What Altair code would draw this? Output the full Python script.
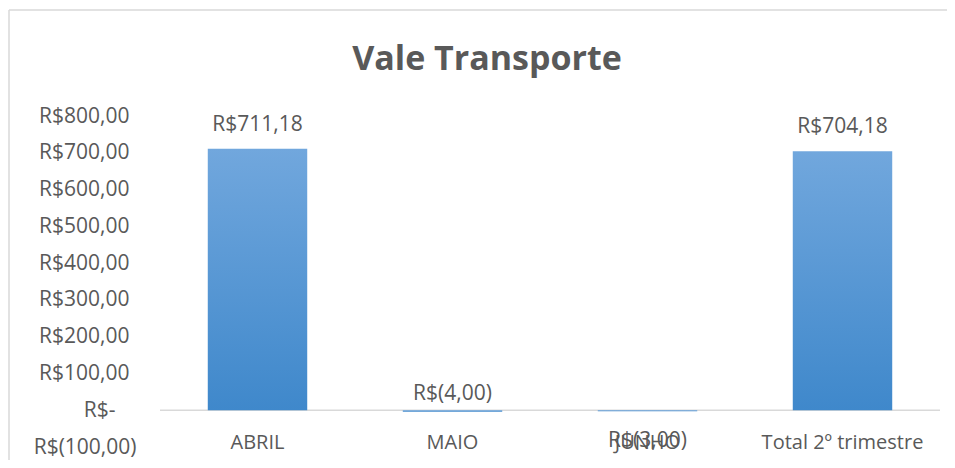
import altair as alt
import pandas as pd

categories = ["ABRIL", "MAIO", "JUNHO", "Total 2º trimestre"]
values = [711.18, -4.00, -3.00, 704.18]
y_ticks = [-100, 0, 100, 200, 300, 400, 500, 600, 700, 800]
title_text = "Vale Transporte"


def brl(v):
    s = f"{abs(v):.2f}".replace(".", ",")
    return f"R$({s})" if v < 0 else f"R${s}"


df = pd.DataFrame({
    "cat": categories,
    "value": values,
    "label": [brl(v) for v in values],
})
df["pos"] = df["value"].clip(lower=0)

W, H = 780, 331
PAD_L, PAD_T, PAD_R, PAD_B = 152, 108, 7, 13
unit = H / 9.0  # pixels per 100
TXT = "#595959"
FONT = "Open Sans"
ZW = "\u200b"
POS_PAD = "\u2006\u2006" + ZW
ZERO_PAD = "\u2002\u2002" + ZW

x_axis = alt.Axis(
    orient="bottom",
    offset=-unit,
    domain=False,
    ticks=False,
    tickSize=0,
    labelPadding=32,
    labelBaseline="middle",
    labelAngle=0,
    labelFontSize=20,
    labelColor=TXT,
    labelFont=FONT,
    labelOverlap=False,
)
x_scale = alt.Scale(paddingInner=0.49, paddingOuter=0.245)

y_scale = alt.Scale(domain=[-100, 800], nice=False, zero=False)
label_expr = (
    "datum.value == 0 ? 'R$-" + ZERO_PAD + "' : "
    "(datum.value < 0 ? 'R$(' + replace(format(-datum.value, '.2f'), '.', ',') + ')' : "
    "'R$' + replace(format(datum.value, '.2f'), '.', ',') + '" + POS_PAD + "')"
)
y_axis = alt.Axis(
    values=y_ticks,
    grid=False,
    domain=False,
    ticks=False,
    tickSize=0,
    labelPadding=24,
    labelExpr=label_expr,
    labelFontSize=21,
    labelColor=TXT,
    labelFont=FONT,
    labelOverlap=False,
    labelFlush=False,
)


def X():
    return alt.X("cat:N", sort=categories, title=None, scale=x_scale, axis=x_axis)


def Y(field):
    return alt.Y(field, scale=y_scale, title=None, axis=y_axis)


base = alt.Chart(df)

bars = base.mark_bar(
    color=alt.Gradient(
        gradient="linear",
        stops=[
            alt.GradientStop(color="#71a7dd", offset=0),
            alt.GradientStop(color="#3f88cb", offset=1),
        ],
        x1=0, x2=0, y1=0, y2=1,
    )
).encode(x=X(), y=Y("value:Q"), y2=alt.datum(0))

zero = base.mark_rule(color="#d9d9d9", strokeWidth=1.6).encode(
    y=alt.YDatum(0, scale=y_scale, title=None, axis=y_axis)
).transform_filter("datum.cat == 'ABRIL'")

lab_pos = base.transform_filter("datum.value >= 0").mark_text(
    fontSize=21, font=FONT, color=TXT, baseline="middle", dy=-24
).encode(x=X(), y=Y("pos:Q"), text="label:N")

lab_maio = base.transform_filter("datum.cat == 'MAIO'").mark_text(
    fontSize=21, font=FONT, color=TXT, baseline="middle", dy=-16
).encode(x=X(), y=Y("pos:Q"), text="label:N")

lab_junho = base.transform_filter("datum.cat == 'JUNHO'").mark_text(
    fontSize=21, font=FONT, color=TXT, baseline="middle", dy=31
).encode(x=X(), y=Y("pos:Q"), text="label:N")

border_left = alt.Chart(pd.DataFrame({"a": [0]})).mark_rule(
    color="#d9d9d9", strokeWidth=1.5
).encode(x=alt.value(-PAD_L + 1), y=alt.value(-PAD_T + 2), y2=alt.value(H + PAD_B))

border_top = alt.Chart(pd.DataFrame({"a": [0]})).mark_rule(
    color="#d9d9d9", strokeWidth=1.5
).encode(x=alt.value(-PAD_L + 1), x2=alt.value(W + PAD_R), y=alt.value(-PAD_T + 2))

chart = alt.layer(
    border_left, border_top, zero, bars, lab_pos, lab_maio, lab_junho
).properties(
    width=W,
    height=H,
    title=alt.TitleParams(
        title_text,
        fontSize=34,
        font=FONT,
        fontWeight="bold",
        color=TXT,
        anchor="middle",
        baseline="alphabetic",
        dx=-63,
        offset=-95,
    ),
    autosize=alt.AutoSizeParams(type="none"),
    padding={"left": PAD_L, "top": PAD_T, "right": PAD_R, "bottom": PAD_B},
).configure(background="white").configure_view(stroke=None)

chart.save("out.html", embed_options={"renderer": "svg", "actions": False})
